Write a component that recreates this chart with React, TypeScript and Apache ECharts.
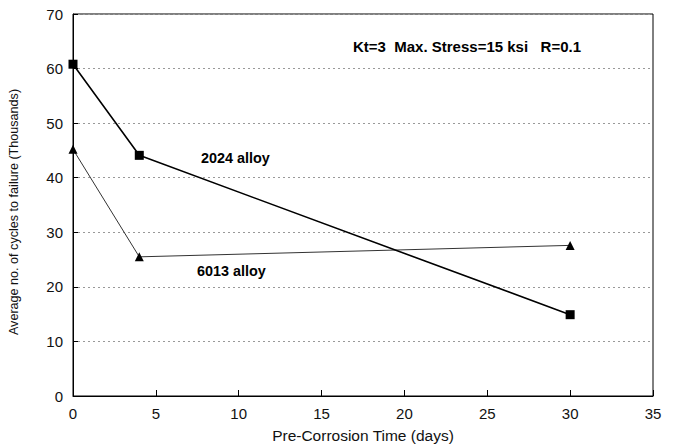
import React, { useEffect, useRef } from "react";
import * as echarts from "echarts";

const days = [0, 4, 30];
const alloy2024 = [60.8, 44.1, 14.9];
const alloy6013 = [45.2, 25.5, 27.6];
const xTicks = [0, 5, 10, 15, 20, 25, 30, 35];
const yTicks = [0, 10, 20, 30, 40, 50, 60, 70];
const seriesNames = ["2024 alloy", "6013 alloy"];
const annotation = "Kt=3  Max. Stress=15 ksi   R=0.1";
const yAxisTitle = "Average no. of cycles to failure (Thousands)";

const FONT = "'Liberation Sans', Arial, Helvetica, sans-serif";

export default function App() {
  const ref = useRef<HTMLDivElement>(null);
  useEffect(() => {
    if (!ref.current) return;
    const chart = echarts.init(ref.current, undefined, { renderer: "svg" });
    chart.setOption({
      animation: false,
      backgroundColor: "#fff",
      grid: {
        left: 73,
        right: 30,
        top: 14,
        bottom: 50.5,
        show: true,
        borderColor: "#000",
        borderWidth: 1,
      },
      xAxis: {
        type: "value",
        min: xTicks[0],
        max: xTicks[xTicks.length - 1],
        interval: 5,
        name: "Pre-Corrosion Time (days)",
        nameLocation: "middle",
        nameGap: 31,
        nameTextStyle: { fontFamily: FONT, fontSize: 15.5, color: "#111" },
        axisLine: { show: true, lineStyle: { color: "#000", width: 1 } },
        axisTick: { show: true, inside: true, length: 6, lineStyle: { color: "#000" } },
        axisLabel: { fontFamily: FONT, fontSize: 15, color: "#111", margin: 10 },
        splitLine: { show: false },
      },
      yAxis: {
        type: "value",
        min: yTicks[0],
        max: yTicks[yTicks.length - 1],
        interval: 10,
        axisLine: { show: true, lineStyle: { color: "#000", width: 1 } },
        axisTick: { show: true, inside: true, length: 5, lineStyle: { color: "#000" } },
        axisLabel: { fontFamily: FONT, fontSize: 15, color: "#111", margin: 10 },
        splitLine: {
          show: true,
          lineStyle: { color: "#999", width: 1, type: [2, 3] },
        },
      },
      series: [
        {
          name: seriesNames[0],
          type: "line",
          data: days.map((d, i) => [d, alloy2024[i]]),
          symbol: "rect",
          symbolSize: 9,
          itemStyle: { color: "#000" },
          lineStyle: { color: "#000", width: 1.6 },
          z: 3,
        },
        {
          name: seriesNames[1],
          type: "line",
          data: days.map((d, i) => [d, alloy6013[i]]),
          symbol: "triangle",
          symbolSize: 9,
          itemStyle: { color: "#000" },
          lineStyle: { color: "#333", width: 1 },
          z: 2,
        },
      ],
      graphic: [
        {
          type: "text",
          x: 14,
          y: 212,
          rotation: Math.PI / 2,
          style: {
            text: yAxisTitle,
            font: `12.6px ${FONT}`,
            fill: "#111",
            align: "center",
            verticalAlign: "middle",
          },
        },
        {
          type: "text",
          left: 201,
          top: 151,
          style: { text: seriesNames[0], font: `bold 14.4px ${FONT}`, fill: "#000" },
        },
        {
          type: "text",
          left: 197,
          top: 264,
          style: { text: seriesNames[1], font: `bold 14.4px ${FONT}`, fill: "#000" },
        },
        {
          type: "text",
          left: 353,
          top: 39,
          style: { text: annotation, font: `bold 15px ${FONT}`, fill: "#000" },
        },
      ],
    });
    return () => chart.dispose();
  }, []);
  return <div ref={ref} style={{ width: 683, height: 448, position: "absolute", left: 0, top: 0 }} />;
}
